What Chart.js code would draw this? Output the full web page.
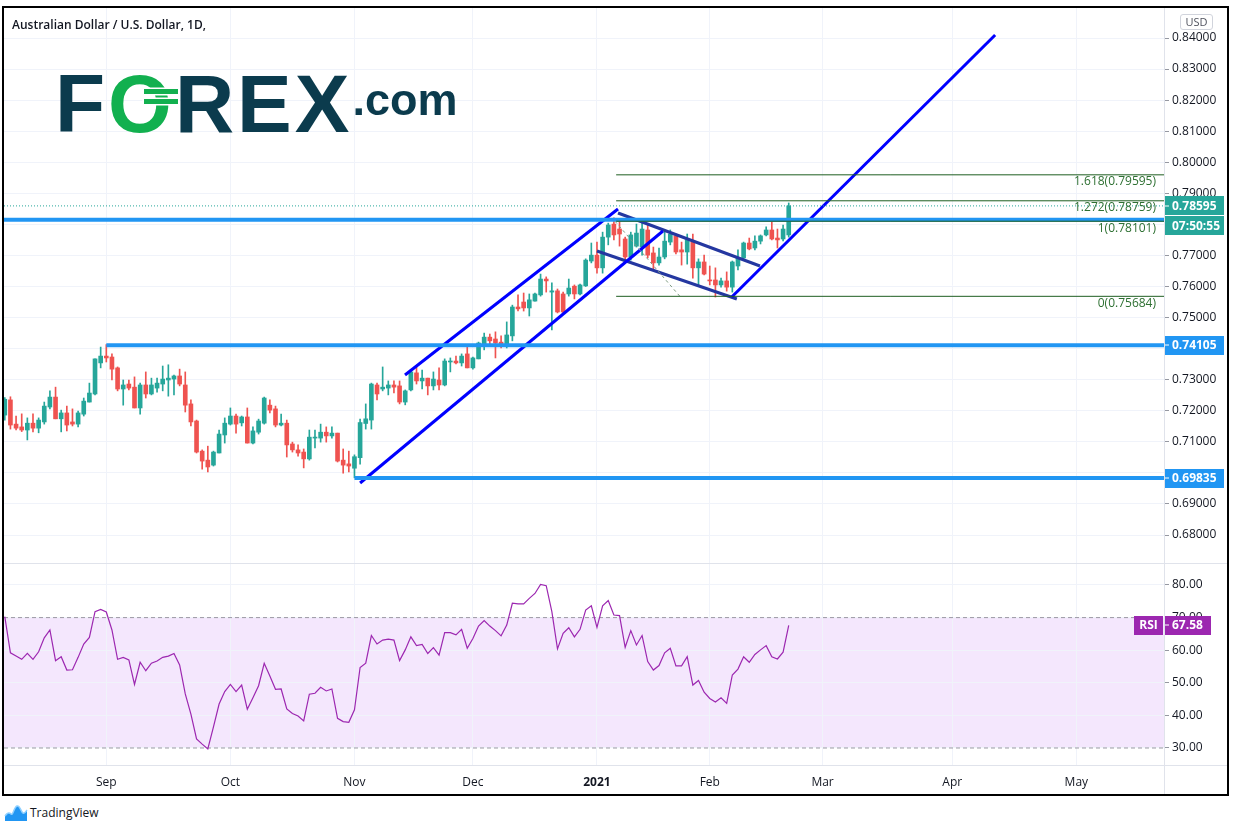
<!DOCTYPE html>
<html>
<head>
<meta charset="utf-8">
<script src="https://cdn.jsdelivr.net/npm/chart.js@4.4.1/dist/chart.umd.min.js"></script>
<style>
html, body { margin: 0; padding: 0; background: #fff; }
body { width: 1235px; height: 832px; position: relative; overflow: hidden; font-family: "Open Sans", sans-serif; }
canvas { position: absolute; left: 0; }
#c1 { top: 0; }
#c2 { top: 563px; }
#frame { position: absolute; left: 2px; top: 6px; width: 1223px; height: 786px; border: 2px solid #000; pointer-events: none; }
.sep { position: absolute; background: #e0e3eb; }
#title { position: absolute; left: 12px; top: 16px; font: 600 12px "Open Sans", sans-serif; color: #131722; }
#usd { position: absolute; left: 1180px; top: 14px; width: 31px; height: 14px; border: 1px solid #d1d4dc; border-radius: 3px;
       font: 11px "Open Sans", sans-serif; color: #50535e; text-align: center; line-height: 14px; background: #fff; }
#logo { position: absolute; left: 55px; top: 57px; height: 82px; line-height: 82px; white-space: nowrap;
        font: bold 82px "Liberation Sans", Arial, sans-serif; color: #0b3b4d; letter-spacing: 3px; }
#logo .o { color: #12b04f; position: relative; }
#logo .bar { position: absolute; left: 36px; width: 34px; height: 5px; background: #12b04f; box-shadow: 0 0 0 1.5px #fff; }
#logo .com { font-size: 45px; position: relative; top: -17px; letter-spacing: 0; margin-left: 0px; }
#tv { position: absolute; left: 4px; top: 803px; height: 20px; font: 12px "Open Sans", sans-serif; color: #131722; }
#tv svg { position: absolute; left: 0; top: 1px; }
#tv span { position: absolute; left: 26px; top: 1px; white-space: nowrap; }
</style>
</head>
<body>
<canvas id="c1" width="1235" height="563"></canvas>
<canvas id="c2" width="1235" height="233"></canvas>
<div class="sep" style="left:4px;top:563px;width:1223px;height:1px;"></div>
<div class="sep" style="left:4px;top:765px;width:1223px;height:1px;"></div>
<div class="sep" style="left:1164px;top:8px;width:1px;height:786px;"></div>
<div id="frame"></div>
<div id="title">Australian Dollar / U.S. Dollar, 1D,</div>
<div id="usd">USD</div>
<div id="logo">F<span class="o">O<i class="bar" style="top:31px"></i><i class="bar" style="top:41px"></i></span>REX<span class="com">.com</span></div>
<div id="tv">
  <svg width="24" height="18" viewBox="0 0 24 18">
    <path d="M1 17 L1 12 C3 9 5 8 7 10 C9 12 10 3 13 2 C16 1 17 8 19 9 C21 10 22 7 23 6 L23 17 Z" fill="#2196f3"/>
    <path d="M1 12 C3 9 5 8 7 10 C9 12 10 3 13 2 C16 1 17 8 19 9 C21 10 22 7 23 6" fill="none" stroke="#8fd0ff" stroke-width="1.5"/>
  </svg>
  <span>TradingView</span>
</div>

<script>
"use strict";

// ---- data (trading-day index 0 = first candle, early Aug 2020) ----
let opens = [
  0.7186,0.7235,0.7157,0.7148,0.7138,0.7160,0.7144,0.7164,0.7212,0.7244,
  0.7174,0.7193,0.7164,0.7157,0.7189,0.7228,0.7254,0.7354,0.7376,0.7373,
  0.7338,0.7270,0.7286,0.7276,0.7209,0.7283,0.7254,0.7273,0.7286,0.7299,
  0.7302,0.7312,0.7283,0.7222,0.7167,0.7070,0.7041,0.7025,0.7064,0.7122,
  0.7157,0.7183,0.7161,0.7180,0.7096,0.7131,0.7160,0.7218,0.7206,0.7154,
  0.7160,0.7093,0.7074,0.7067,0.7045,0.7112,0.7112,0.7131,0.7119,0.7128,
  0.7041,0.7029,0.7015,0.7049,0.7159,0.7170,0.7283,0.7270,0.7273,0.7283,
  0.7280,0.7228,0.7267,0.7322,0.7296,0.7305,0.7280,0.7299,0.7283,0.7357,
  0.7360,0.7354,0.7383,0.7338,0.7367,0.7408,0.7437,0.7431,0.7421,0.7412,
  0.7441,0.7534,0.7550,0.7531,0.7553,0.7573,0.7624,0.7582,0.7586,0.7576,
  0.7576,0.7601,0.7576,0.7602,0.7682,0.7701,0.7660,0.7759,0.7801,0.7785,
  0.7753,0.7695,0.7730,0.7727,0.7782,0.7708,0.7676,0.7695,0.7743,0.7763,
  0.7718,0.7711,0.7743,0.7660,0.7679,0.7621,0.7621,0.7605,0.7618,0.7598,
  0.7666,0.7692,0.7740,0.7724,0.7746,0.7766,0.7782,0.7756,0.7753,0.7766
];
let highs = [
  0.7242,0.7245,0.7183,0.7190,0.7177,0.7190,0.7177,0.7228,0.7264,0.7276,
  0.7202,0.7215,0.7206,0.7199,0.7241,0.7289,0.7367,0.7405,0.7413,0.7383,
  0.7341,0.7299,0.7299,0.7309,0.7289,0.7325,0.7305,0.7305,0.7344,0.7348,
  0.7315,0.7334,0.7325,0.7235,0.7170,0.7074,0.7086,0.7070,0.7138,0.7177,
  0.7209,0.7189,0.7183,0.7209,0.7148,0.7173,0.7244,0.7235,0.7215,0.7189,
  0.7170,0.7099,0.7090,0.7077,0.7138,0.7138,0.7157,0.7148,0.7148,0.7128,
  0.7077,0.7070,0.7058,0.7173,0.7222,0.7289,0.7289,0.7341,0.7296,0.7296,
  0.7296,0.7267,0.7328,0.7341,0.7331,0.7305,0.7325,0.7338,0.7367,0.7370,
  0.7376,0.7383,0.7408,0.7373,0.7421,0.7450,0.7447,0.7454,0.7441,0.7486,
  0.7540,0.7573,0.7579,0.7576,0.7579,0.7640,0.7631,0.7612,0.7592,0.7582,
  0.7624,0.7605,0.7608,0.7689,0.7740,0.7743,0.7775,0.7804,0.7821,0.7808,
  0.7759,0.7775,0.7801,0.7811,0.7798,0.7727,0.7724,0.7782,0.7782,0.7769,
  0.7743,0.7769,0.7769,0.7689,0.7701,0.7666,0.7660,0.7627,0.7647,0.7682,
  0.7718,0.7743,0.7756,0.7763,0.7766,0.7792,0.7808,0.7785,0.7798,0.7869
];
let lows = [
  0.7170,0.7141,0.7138,0.7133,0.7106,0.7132,0.7129,0.7157,0.7206,0.7174,
  0.7132,0.7135,0.7151,0.7148,0.7183,0.7228,0.7251,0.7338,0.7357,0.7299,
  0.7264,0.7218,0.7267,0.7209,0.7189,0.7241,0.7251,0.7260,0.7264,0.7247,
  0.7251,0.7280,0.7196,0.7151,0.7064,0.7012,0.7003,0.7022,0.7064,0.7096,
  0.7154,0.7128,0.7151,0.7096,0.7093,0.7125,0.7157,0.7193,0.7148,0.7151,
  0.7051,0.7067,0.7054,0.7016,0.7041,0.7080,0.7099,0.7099,0.7112,0.7035,
  0.6999,0.7003,0.6984,0.7028,0.7141,0.7141,0.7235,0.7264,0.7251,0.7257,
  0.7222,0.7219,0.7264,0.7286,0.7270,0.7251,0.7267,0.7267,0.7280,0.7325,
  0.7351,0.7344,0.7338,0.7334,0.7367,0.7396,0.7412,0.7370,0.7402,0.7402,
  0.7425,0.7521,0.7521,0.7505,0.7553,0.7569,0.7582,0.7460,0.7515,0.7512,
  0.7569,0.7560,0.7573,0.7600,0.7676,0.7643,0.7643,0.7734,0.7750,0.7730,
  0.7685,0.7685,0.7727,0.7701,0.7692,0.7656,0.7669,0.7689,0.7734,0.7705,
  0.7669,0.7672,0.7627,0.7605,0.7637,0.7605,0.7566,0.7598,0.7585,0.7582,
  0.7653,0.7689,0.7718,0.7718,0.7737,0.7763,0.7750,0.7724,0.7747,0.7759
];
let closes = [
  0.7237,0.7154,0.7144,0.7138,0.7160,0.7144,0.7170,0.7215,0.7244,0.7174,
  0.7193,0.7154,0.7157,0.7193,0.7231,0.7257,0.7367,0.7376,0.7370,0.7334,
  0.7270,0.7283,0.7273,0.7209,0.7283,0.7254,0.7283,0.7289,0.7302,0.7305,
  0.7312,0.7286,0.7218,0.7164,0.7067,0.7038,0.7019,0.7067,0.7125,0.7160,
  0.7183,0.7157,0.7180,0.7096,0.7135,0.7167,0.7241,0.7202,0.7154,0.7160,
  0.7090,0.7074,0.7064,0.7045,0.7115,0.7115,0.7131,0.7119,0.7128,0.7038,
  0.7025,0.7022,0.7052,0.7162,0.7174,0.7286,0.7254,0.7276,0.7283,0.7276,
  0.7228,0.7264,0.7325,0.7296,0.7305,0.7280,0.7302,0.7283,0.7360,0.7360,
  0.7354,0.7376,0.7338,0.7370,0.7418,0.7437,0.7425,0.7418,0.7408,0.7444,
  0.7534,0.7528,0.7531,0.7557,0.7576,0.7624,0.7618,0.7586,0.7518,0.7518,
  0.7595,0.7576,0.7605,0.7685,0.7701,0.7660,0.7759,0.7798,0.7766,0.7769,
  0.7695,0.7766,0.7772,0.7785,0.7701,0.7676,0.7695,0.7746,0.7769,0.7711,
  0.7711,0.7750,0.7660,0.7679,0.7640,0.7618,0.7605,0.7618,0.7598,0.7679,
  0.7692,0.7740,0.7721,0.7746,0.7763,0.7782,0.7753,0.7750,0.7785,0.78595
];
let rsi = [
  70.3,59.2,58.2,57.2,59.0,57.2,59.5,63.8,66.2,56.8,
  58.0,53.9,54.0,57.8,61.9,63.9,71.8,72.5,71.7,66.2,
  57.2,57.8,57.0,49.5,56.3,53.7,56.0,56.7,57.8,58.2,
  59.0,55.5,46.6,40.4,32.8,31.2,29.7,36.5,43.5,47.3,
  49.5,47.3,49.3,41.9,45.4,49.1,56.0,52.1,48.0,48.1,
  42.0,40.6,39.8,38.3,46.5,46.8,48.6,47.5,48.1,39.1,
  38.1,37.9,41.7,54.7,56.0,64.5,61.9,63.1,63.4,63.1,
  56.8,60.1,64.1,61.4,61.8,59.0,60.8,58.5,65.4,65.4,
  64.7,66.4,60.6,63.6,67.4,69.1,67.4,66.0,64.4,67.7,
  74.4,74.2,74.2,75.9,77.4,80.2,79.8,71.8,60.4,65.2,
  66.9,64.1,66.4,72.3,73.6,67.0,73.6,75.2,70.8,70.6,
  60.9,66.0,61.6,64.5,56.5,53.9,55.3,59.2,60.6,55.2,
  55.2,58.0,49.3,50.7,47.1,45.2,44.1,45.4,43.7,52.4,
  54.2,58.0,56.3,58.7,60.1,61.4,58.0,57.3,59.4,67.58
];

// month ticks on the time axis (trading-day index) and their labels
let monthTicks  = [18, 40, 62, 83, 105, 125, 145, 168, 190];
let monthLabels = ['Sep', 'Oct', 'Nov', 'Dec', '2021', 'Feb', 'Mar', 'Apr', 'May'];
let priceTicks  = [0.68,0.69,0.70,0.71,0.72,0.73,0.74,0.75,0.76,0.77,0.78,0.79,0.80,0.81,0.82,0.83,0.84];
let rsiTicks    = [30, 40, 50, 60, 70, 80];

// horizontal support / resistance levels: [start index, price]
let levels = [[-0.14, 0.7815], [18, 0.74105], [62, 0.69835]];
let levelTags = [0.74105, 0.69835];
// drawn trend lines: [[x1, p1], [x2, p2]]
let channelLines = [[[63.0, 0.69674], [116.7, 0.77787]], [[70.96, 0.73151], [108.73, 0.78495]], [[128.9, 0.75662], [175.6, 0.84097]]];
let flagLines = [[[108.73, 0.78366], [133.9, 0.76660]], [[105.0, 0.77143], [129.8, 0.75598]]];
// fibonacci extension
let fibRatios = [1.618, 1.272, 1, 0];
let fibLevels = [0.79595, 0.78759, 0.78101, 0.75684];
let fibStart = 108.4;
let fibTrend = [[108.2, 0.78101], [119.7, 0.75684]];
let timer = '07:50:55';

// ---- look ----
const X_MIN = -0.14, X_MAX = 205.54;
const P_MIN = 0.670986, P_MAX = 0.849658;
const R_MIN = 24.785, R_MAX = 86.44;
const GREEN = '#26a69a', RED = '#ef5350';
const GRID = '#f0f3fa', TEXT = '#131722';
const FONT = '"Open Sans", sans-serif';
Chart.defaults.font.family = FONT;
Chart.defaults.font.size = 12;
Chart.defaults.color = TEXT;

let idx = closes.map((c, i) => i);
let isUp = i => closes[i] >= opens[i];
let candleColor = c => isUp(c.dataIndex) ? GREEN : RED;
let lastClose = closes[closes.length - 1];

function seg(pts, color, width, dash) {
    return {
        type: 'line', data: pts.map(p => ({x: p[0], y: p[1]})),
        borderColor: color, borderWidth: width, borderDash: dash || [],
        pointRadius: 0, fill: false, tension: 0, order: 1, clip: 0,
    };
}

// fixed-width value axis with no extra label padding, so both panels line up
function fixAxis(s) {
    s.width = 71;
    s.paddingTop = 0;
    s.paddingBottom = 0;
}

// price labels hidden where a tag sits on the axis (like TradingView does)
function priceLabel(v) {
    let covered = levelTags.some(t => Math.abs(t - v) < 0.003) || Math.abs(lastClose - 0.0065 - v) < 0.003;
    return covered ? '' : v.toFixed(5);
}

function tag(ctx, x, yc, w, bg, text, mark) {
    let h = 19;
    ctx.fillStyle = bg;
    ctx.fillRect(x, Math.round(yc - h / 2), w, h);
    if (mark) {
        ctx.fillStyle = '#fff';
        ctx.fillRect(x + 1, Math.round(yc) - 0.5, 4, 1);
    }
    ctx.fillStyle = '#fff';
    ctx.font = 'bold 12px ' + FONT;
    ctx.textAlign = 'left';
    ctx.textBaseline = 'middle';
    ctx.fillText(text, x + 8, yc + 0.5);
}

// ---- price panel ----
let priceDatasets = [
    {type: 'bar', data: idx.map(i => ({x: i, y: [lows[i], highs[i]]})), backgroundColor: candleColor,
     barThickness: 1, grouped: false, order: 3, borderWidth: 0},
    {type: 'bar', data: idx.map(i => ({x: i, y: [opens[i], closes[i]]})), backgroundColor: candleColor,
     barThickness: 4, grouped: false, order: 2, borderWidth: 0, minBarLength: 1},
];
fibLevels.forEach(lv => priceDatasets.push(seg([[fibStart, lv], [X_MAX, lv]], '#1e5e20', 1)));
priceDatasets.push(seg(fibTrend, '#7d9a80', 1, [3, 3]));
priceDatasets.push(seg([[X_MIN, lastClose], [X_MAX, lastClose]], GREEN, 1, [1, 2]));
levels.forEach(l => priceDatasets.push(seg([[l[0], l[1]], [X_MAX, l[1]]], '#2196f3', 4)));
channelLines.forEach(l => priceDatasets.push(seg(l, '#0000ff', 3)));
flagLines.forEach(l => priceDatasets.push(seg(l, '#2437a0', 3)));

let priceOverlay = {
    id: 'priceOverlay',
    afterDraw(chart) {
        let {ctx, chartArea, scales} = chart;
        let y = scales.y;
        ctx.save();
        ctx.font = '12px ' + FONT;
        ctx.fillStyle = '#2e7032';
        ctx.textAlign = 'right';
        ctx.textBaseline = 'top';
        fibLevels.forEach((lv, k) => {
            ctx.fillText(`${fibRatios[k]}(${lv.toFixed(5)})`, chartArea.right - 8, y.getPixelForValue(lv) + 1);
        });
        let yl = y.getPixelForValue(lastClose);
        tag(ctx, chartArea.right, yl, 60, GREEN, lastClose.toFixed(5), true);
        tag(ctx, chartArea.right, yl + 20, 60, GREEN, timer, false);
        levelTags.forEach(v => tag(ctx, chartArea.right, y.getPixelForValue(v), 60, '#2196f3', v.toFixed(5), true));
        ctx.restore();
    }
};

let chart1 = new Chart(document.querySelector('#c1'), {
    type: 'bar',
    data: {datasets: priceDatasets},
    options: {
        animation: false, responsive: false, events: [],
        layout: {padding: {top: 8, left: 4, right: 0, bottom: 0}},
        plugins: {legend: {display: false}, tooltip: {enabled: false}},
        scales: {
            x: {
                type: 'linear', min: X_MIN, max: X_MAX, offset: false,
                afterBuildTicks: s => { s.ticks = monthTicks.map(v => ({value: v})); },
                afterFit: s => { s.height = 0; s.paddingLeft = 0; s.paddingRight = 0; },
                ticks: {display: false},
                grid: {color: GRID, drawTicks: false, offset: false},
                border: {display: false},
            },
            y: {
                position: 'right', min: P_MIN, max: P_MAX,
                afterBuildTicks: s => { s.ticks = priceTicks.map(v => ({value: v})); },
                afterFit: fixAxis,
                ticks: {callback: priceLabel, padding: 3, color: TEXT},
                grid: {color: GRID, tickLength: 5, tickColor: '#9598a1'},
                border: {display: false},
            },
        },
    },
    plugins: [priceOverlay],
});

// ---- RSI panel ----
let rsiOverlay = {
    id: 'rsiOverlay',
    beforeDraw(chart) {
        let {ctx, chartArea, scales} = chart;
        let y70 = scales.y.getPixelForValue(70), y30 = scales.y.getPixelForValue(30);
        ctx.save();
        ctx.fillStyle = '#f4e7fd';
        ctx.fillRect(chartArea.left, y70, chartArea.right - chartArea.left, y30 - y70);
        ctx.restore();
    },
    afterDraw(chart) {
        let {ctx, chartArea, scales} = chart;
        let v = rsi[rsi.length - 1];
        let yv = scales.y.getPixelForValue(v);
        ctx.save();
        ctx.fillStyle = '#9c27b0';
        ctx.fillRect(chartArea.right - 30, Math.round(yv - 9.5), 29, 19);
        ctx.fillStyle = '#fff';
        ctx.font = 'bold 12px ' + FONT;
        ctx.textAlign = 'center';
        ctx.textBaseline = 'middle';
        ctx.fillText('RSI', chartArea.right - 15.5, yv + 0.5);
        tag(ctx, chartArea.right, yv, 47, '#9c27b0', v.toFixed(2), true);
        ctx.restore();
    }
};

let chart2 = new Chart(document.querySelector('#c2'), {
    type: 'line',
    data: {
        datasets: [
            {data: idx.map(i => ({x: i, y: rsi[i]})), borderColor: '#9c27b0', borderWidth: 1.2,
             pointRadius: 0, tension: 0, fill: false, order: 1},
            seg([[X_MIN, 70], [X_MAX, 70]], '#9b98a3', 1, [4, 3]),
            seg([[X_MIN, 30], [X_MAX, 30]], '#9b98a3', 1, [4, 3]),
        ],
    },
    options: {
        animation: false, responsive: false, events: [],
        layout: {padding: {top: 1, left: 4, right: 0, bottom: 0}},
        plugins: {legend: {display: false}, tooltip: {enabled: false}},
        scales: {
            x: {
                type: 'linear', min: X_MIN, max: X_MAX, offset: false,
                afterBuildTicks: s => { s.ticks = monthTicks.map(v => ({value: v})); },
                afterFit: s => { s.height = 31; s.paddingLeft = 0; s.paddingRight = 0; },
                ticks: {
                    callback: v => monthLabels[monthTicks.indexOf(v)],
                    padding: 10, color: TEXT, maxRotation: 0, autoSkip: false,
                    font: c => ({family: FONT, size: 12, weight: c.tick && c.tick.value === 105 ? 'bold' : 'normal'}),
                },
                grid: {color: GRID, drawTicks: false},
                border: {display: false},
            },
            y: {
                position: 'right', min: R_MIN, max: R_MAX,
                afterBuildTicks: s => { s.ticks = rsiTicks.map(v => ({value: v})); },
                afterFit: fixAxis,
                ticks: {callback: v => v.toFixed(2), padding: 3, color: TEXT},
                grid: {color: GRID, tickLength: 5, tickColor: '#9598a1'},
                border: {display: false},
            },
        },
    },
    plugins: [rsiOverlay],
});
</script>
</body>
</html>
